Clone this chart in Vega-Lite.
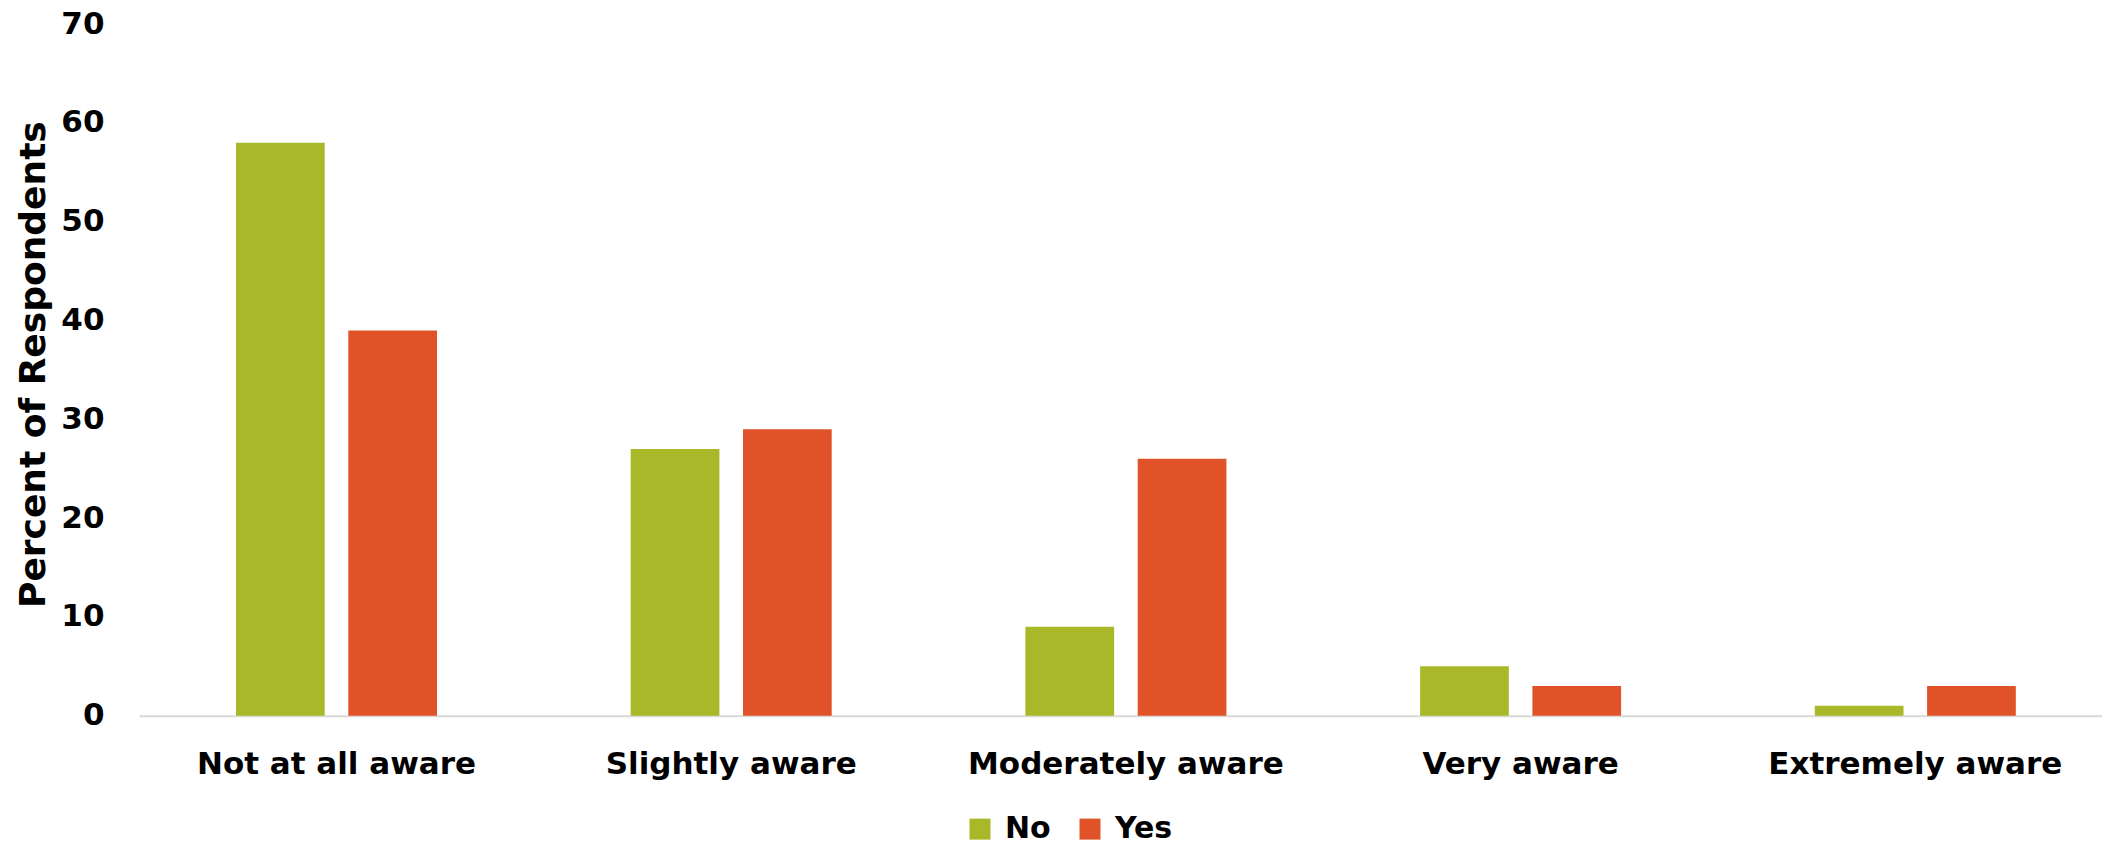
{
  "$schema": "https://vega.github.io/schema/vega-lite/v6.json",
  "autosize": {"type": "none"},
  "width": 1963,
  "height": 691.6,
  "padding": {"left": 139, "top": 24.1, "right": 0, "bottom": 129.3},
  "background": "#ffffff",
  "config": {
    "view": {"stroke": null},
    "font": "DejaVu Sans"
  },
  "data": {
    "values": [
      {"awareness": "Not at all aware", "group": "No", "percent": 58},
      {"awareness": "Not at all aware", "group": "Yes", "percent": 39},
      {"awareness": "Slightly aware", "group": "No", "percent": 27},
      {"awareness": "Slightly aware", "group": "Yes", "percent": 29},
      {"awareness": "Moderately aware", "group": "No", "percent": 9},
      {"awareness": "Moderately aware", "group": "Yes", "percent": 26},
      {"awareness": "Very aware", "group": "No", "percent": 5},
      {"awareness": "Very aware", "group": "Yes", "percent": 3},
      {"awareness": "Extremely aware", "group": "No", "percent": 1},
      {"awareness": "Extremely aware", "group": "Yes", "percent": 3}
    ]
  },
  "mark": {"type": "bar"},
  "encoding": {
    "x": {
      "field": "awareness",
      "type": "nominal",
      "sort": ["Not at all aware", "Slightly aware", "Moderately aware", "Very aware", "Extremely aware"],
      "scale": {"paddingInner": 0.49075, "paddingOuter": 0.23208, "align": 0.5295},
      "axis": {
        "title": null,
        "labelAngle": 0,
        "labelLimit": 0,
        "ticks": false,
        "tickSize": 0,
        "domain": true,
        "domainColor": "#d9d9d9",
        "domainWidth": 2,
        "labelFont": "DejaVu Sans",
        "labelFontWeight": "bold",
        "labelFontSize": 31,
        "labelColor": "#000000",
        "labelBaseline": "alphabetic",
        "labelPadding": 58
      }
    },
    "xOffset": {
      "field": "group",
      "type": "nominal",
      "scale": {"paddingInner": 0.21, "paddingOuter": 0}
    },
    "y": {
      "field": "percent",
      "type": "quantitative",
      "scale": {"domain": [0, 70], "nice": false},
      "axis": {
        "values": [0, 10, 20, 30, 40, 50, 60, 70],
        "grid": false,
        "domain": false,
        "ticks": false,
        "tickSize": 0,
        "labelFont": "DejaVu Sans",
        "labelFontWeight": "bold",
        "labelFontSize": 31,
        "labelColor": "#000000",
        "labelPadding": 35,
        "title": "Percent of Respondents",
        "titleFont": "DejaVu Sans",
        "titleFontWeight": "bold",
        "titleFontSize": 36,
        "titleColor": "#000000",
        "titleAngle": -90,
        "titleAlign": "center",
        "titleBaseline": "middle",
        "titleX": -106,
        "titleY": 340
      }
    },
    "color": {
      "field": "group",
      "type": "nominal",
      "scale": {"domain": ["No", "Yes"], "range": ["#a8b829", "#e05328"]},
      "legend": {
        "title": null,
        "orient": "none",
        "direction": "horizontal",
        "legendX": 826,
        "legendY": 790,
        "padding": 0,
        "symbolType": "square",
        "symbolSize": 441,
        "symbolStrokeWidth": 0,
        "symbolOpacity": 1,
        "labelFont": "DejaVu Sans",
        "labelFontWeight": "bold",
        "labelFontSize": 30,
        "labelColor": "#000000",
        "labelOffset": 10,
        "columnPadding": 24
      }
    }
  }
}
